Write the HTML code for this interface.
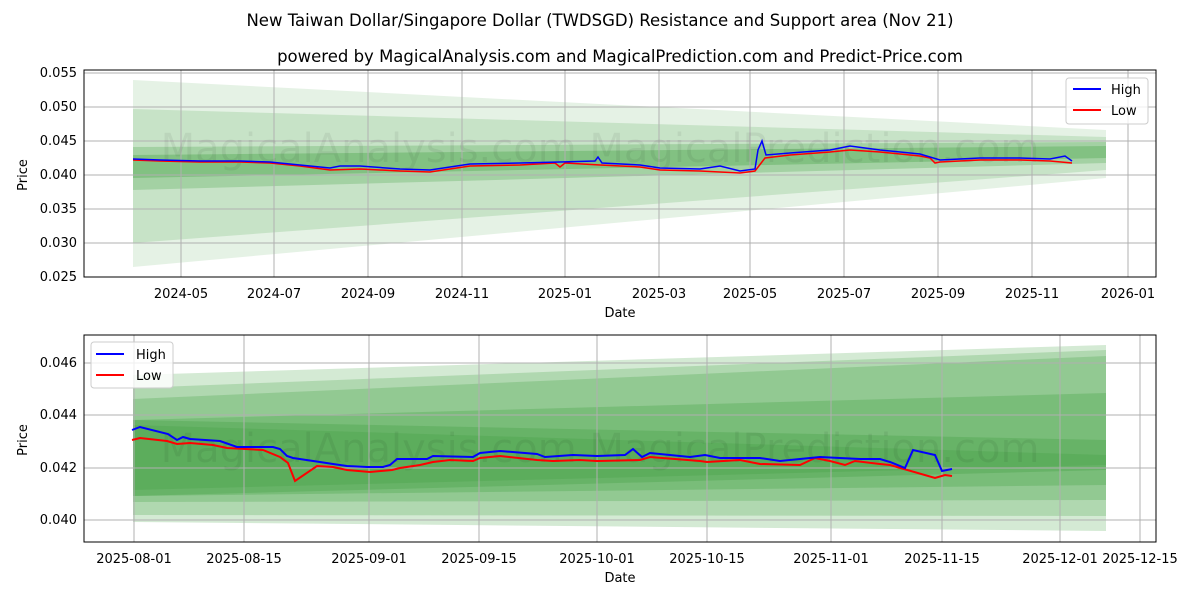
<!DOCTYPE html>
<html><head><meta charset="utf-8"><style>
body{margin:0;background:#fff}
svg text{font-family:"DejaVu Sans","Liberation Sans",sans-serif;fill:#000}
</style></head><body>
<svg width="1200" height="600" viewBox="0 0 1200 600" xmlns="http://www.w3.org/2000/svg">
<rect width="1200" height="600" fill="#fff"/>
<text x="600" y="26" font-size="16.5" text-anchor="middle">New Taiwan Dollar/Singapore Dollar (TWDSGD) Resistance and Support area (Nov 21)</text>
<text x="620" y="62" font-size="16.5" text-anchor="middle">powered by MagicalAnalysis.com and MagicalPrediction.com and Predict-Price.com</text>

<!-- TOP CHART -->
<g>
<polygon points="133,80 1106,130 1106,178 133,267" fill="#008000" fill-opacity="0.1"/>
<polygon points="133,109 1106,137 1106,170 133,243" fill="#008000" fill-opacity="0.13"/>
<polygon points="133,147 1106,142 1106,163 133,190" fill="#008000" fill-opacity="0.18"/>
<polygon points="133,155 1106,146 1106,158 133,178" fill="#008000" fill-opacity="0.2"/>
<g stroke="#b0b0b0" stroke-width="1">
<line x1="181" y1="70" x2="181" y2="277"/><line x1="274" y1="70" x2="274" y2="277"/><line x1="368" y1="70" x2="368" y2="277"/><line x1="462" y1="70" x2="462" y2="277"/><line x1="565" y1="70" x2="565" y2="277"/><line x1="659" y1="70" x2="659" y2="277"/><line x1="750" y1="70" x2="750" y2="277"/><line x1="844" y1="70" x2="844" y2="277"/><line x1="938" y1="70" x2="938" y2="277"/><line x1="1032" y1="70" x2="1032" y2="277"/><line x1="1128" y1="70" x2="1128" y2="277"/>
<line x1="84" y1="243" x2="1156" y2="243"/><line x1="84" y1="209" x2="1156" y2="209"/><line x1="84" y1="175" x2="1156" y2="175"/><line x1="84" y1="141" x2="1156" y2="141"/><line x1="84" y1="107" x2="1156" y2="107"/><line x1="84" y1="73" x2="1156" y2="73"/>
</g>
<text x="600" y="162" font-size="40" text-anchor="middle" style="fill-opacity:0.06">MagicalAnalysis.com    MagicalPrediction.com</text>
<polyline fill="none" stroke="#ff0000" stroke-width="1.5" points="133,160 160,161 200,162 240,162 270,163 300,166 330,170 360,169 400,171 430,172 470,166 520,165 555,163 560,167 565,163 600,165 640,167 660,170 700,171 740,173 755,171 765,158 790,155 830,152 850,150 880,152 920,156 930,158 935,163 940,162 980,160 1020,160 1050,161 1072,163"/>
<polyline fill="none" stroke="#0000ff" stroke-width="1.5" points="133,159 160,160 200,161 240,161 270,162 300,165 330,168 340,166 360,166 400,169 430,170 470,164 520,163 560,162 595,161 598,157 602,163 640,165 660,168 700,169 720,166 740,171 755,169 758,150 762,141 766,155 790,153 830,150 850,146 880,150 920,154 940,160 980,158 1020,158 1050,159 1065,156 1072,161"/>
<rect x="84" y="70" width="1072" height="207" fill="none" stroke="#000" stroke-width="1"/>
<g font-size="13" text-anchor="end">
<text x="77" y="281">0.025</text><text x="77" y="247">0.030</text><text x="77" y="213">0.035</text><text x="77" y="179">0.040</text><text x="77" y="145">0.045</text><text x="77" y="111">0.050</text><text x="77" y="77">0.055</text>
</g>
<g font-size="13" text-anchor="middle">
<text x="181" y="298">2024-05</text><text x="274" y="298">2024-07</text><text x="368" y="298">2024-09</text><text x="462" y="298">2024-11</text><text x="565" y="298">2025-01</text><text x="659" y="298">2025-03</text><text x="750" y="298">2025-05</text><text x="844" y="298">2025-07</text><text x="938" y="298">2025-09</text><text x="1032" y="298">2025-11</text><text x="1128" y="298">2026-01</text>
</g>
<text x="620" y="317" font-size="13" text-anchor="middle">Date</text>
<text x="27" y="175" font-size="13" text-anchor="middle" transform="rotate(-90 27 175)">Price</text>
<rect x="1066" y="78" width="82" height="46" fill="#fff" fill-opacity="0.8" stroke="#ccc" rx="3"/>
<line x1="1073" y1="89" x2="1101" y2="89" stroke="#0000ff" stroke-width="2"/><text x="1111" y="94" font-size="13">High</text>
<line x1="1073" y1="110" x2="1101" y2="110" stroke="#ff0000" stroke-width="2"/><text x="1111" y="115" font-size="13">Low</text>
</g>

<!-- BOTTOM CHART -->
<g>
<polygon points="133,375 1106,345 1106,531 133,522" fill="#008000" fill-opacity="0.17"/>
<polygon points="133,388 1106,350 1106,516 133,515" fill="#008000" fill-opacity="0.17"/>
<polygon points="133,399 1106,356 1106,500 133,502" fill="#008000" fill-opacity="0.17"/>
<polygon points="133,420 1106,393 1106,485 133,496" fill="#008000" fill-opacity="0.17"/>
<polygon points="133,420 1106,440 1106,470 133,496" fill="#008000" fill-opacity="0.15"/>
<polygon points="133,425 1106,455 1106,465 133,490" fill="#008000" fill-opacity="0.1"/>
<g stroke="#b0b0b0" stroke-width="1">
<line x1="134" y1="335" x2="134" y2="542"/><line x1="244" y1="335" x2="244" y2="542"/><line x1="369" y1="335" x2="369" y2="542"/><line x1="479" y1="335" x2="479" y2="542"/><line x1="597" y1="335" x2="597" y2="542"/><line x1="707" y1="335" x2="707" y2="542"/><line x1="831" y1="335" x2="831" y2="542"/><line x1="942" y1="335" x2="942" y2="542"/><line x1="1060" y1="335" x2="1060" y2="542"/><line x1="1140" y1="335" x2="1140" y2="542"/>
<line x1="84" y1="520" x2="1156" y2="520"/><line x1="84" y1="468" x2="1156" y2="468"/><line x1="84" y1="415" x2="1156" y2="415"/><line x1="84" y1="363" x2="1156" y2="363"/>
</g>
<text x="600" y="462" font-size="40" text-anchor="middle" style="fill-opacity:0.06">MagicalAnalysis.com    MagicalPrediction.com</text>
<polyline fill="none" stroke="#ff0000" stroke-width="2" points="132,440 140,438 167,441 177,444 190,443 213,445 227,448 263,450 280,457 288,463 295,481 317,466 333,467 347,470 370,472 392,470 400,468 420,465 433,462 450,460 473,461 480,458 500,456 537,460 553,461 580,460 597,461 640,460 650,457 700,461 707,462 740,460 760,464 800,465 815,458 830,461 845,465 855,461 880,464 890,465 935,478 945,475 952,476"/>
<polyline fill="none" stroke="#0000ff" stroke-width="2" points="132,430 140,427 168,434 177,440 183,437 190,439 220,441 237,447 273,447 280,449 287,456 293,458 320,462 333,464 347,466 367,467 383,467 390,465 397,459 427,459 433,456 473,457 480,453 500,451 537,454 545,457 573,455 597,456 625,455 633,449 642,457 650,453 690,457 705,455 720,458 760,458 780,461 820,457 860,459 880,459 890,462 905,468 913,450 935,455 942,471 952,469"/>
<rect x="84" y="335" width="1072" height="207" fill="none" stroke="#000" stroke-width="1"/>
<g font-size="13" text-anchor="end">
<text x="77" y="524">0.040</text><text x="77" y="472">0.042</text><text x="77" y="419">0.044</text><text x="77" y="367">0.046</text>
</g>
<g font-size="13" text-anchor="middle">
<text x="134" y="563">2025-08-01</text><text x="244" y="563">2025-08-15</text><text x="369" y="563">2025-09-01</text><text x="479" y="563">2025-09-15</text><text x="597" y="563">2025-10-01</text><text x="707" y="563">2025-10-15</text><text x="831" y="563">2025-11-01</text><text x="942" y="563">2025-11-15</text><text x="1060" y="563">2025-12-01</text><text x="1140" y="563">2025-12-15</text>
</g>
<text x="620" y="582" font-size="13" text-anchor="middle">Date</text>
<text x="27" y="440" font-size="13" text-anchor="middle" transform="rotate(-90 27 440)">Price</text>
<rect x="91" y="342" width="82" height="46" fill="#fff" fill-opacity="0.8" stroke="#ccc" rx="3"/>
<line x1="96" y1="354" x2="124" y2="354" stroke="#0000ff" stroke-width="2"/><text x="136" y="359" font-size="13">High</text>
<line x1="96" y1="375" x2="124" y2="375" stroke="#ff0000" stroke-width="2"/><text x="136" y="380" font-size="13">Low</text>
</g>
</svg>
</body></html>
